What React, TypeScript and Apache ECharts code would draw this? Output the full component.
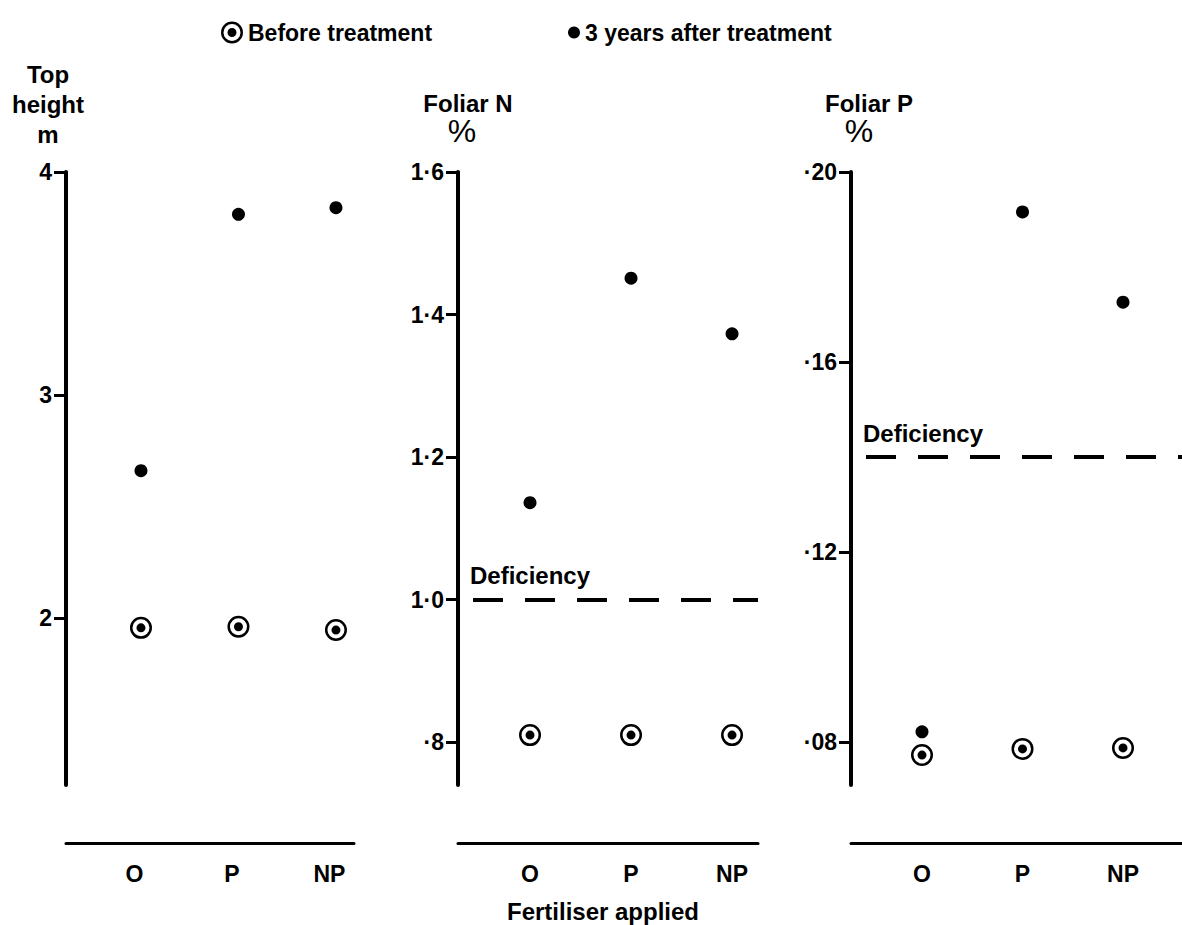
import React, { useEffect, useRef } from "react";
import * as echarts from "echarts";

const categories = ["O", "P", "NP"];
const heightBefore = [1.955, 1.96, 1.945];
const heightAfter = [2.66, 3.81, 3.84];
const nBefore = [0.81, 0.81, 0.81];
const nAfter = [1.136, 1.451, 1.373];
const pBefore = [0.0773, 0.0786, 0.0788];
const pAfter = [0.0822, 0.1916, 0.1726];
const heightTicks = [2, 3, 4];
const nTicks = [0.8, 1.0, 1.2, 1.4, 1.6];
const pTicks = [0.08, 0.12, 0.16, 0.2];
const nDeficiency = 1.0;
const pDeficiency = 0.14;

const BEFORE_PATH =
  "path://M0 11A11 11 0 1 0 22 11A11 11 0 1 0 0 11Z" +
  "M2.5 11A8.5 8.5 0 1 1 19.5 11A8.5 8.5 0 1 1 2.5 11Z" +
  "M6.5 11A4.5 4.5 0 1 0 15.5 11A4.5 4.5 0 1 0 6.5 11Z";

const FONT = "'Liberation Sans', Arial, sans-serif";

const toPairs = (vals: number[]) => vals.map((v, i) => [i + 1, v]);

export default function App() {
  const ref = useRef<HTMLDivElement>(null);
  useEffect(() => {
    if (!ref.current) return;
    const chart = echarts.init(ref.current, null, { renderer: "svg" });
    const grids = [
      { left: 66, top: 172, width: 288, height: 613 },
      { left: 458, top: 172, width: 300, height: 613 },
      { left: 851, top: 172, width: 331, height: 613 },
    ];
    const xRanges = [
      [0.231, 3.185],
      [0.287, 3.257],
      [0.2935, 3.587],
    ];
    const labelPads = [
      [0, 13, 0, 0],
      [0, 0, 0, 0],
      [0, 0, 0, 0],
    ];
    const xAxis = xRanges.map((r, i) => ({
      type: "value",
      gridIndex: i,
      min: r[0],
      max: r[1],
      position: "bottom",
      offset: 58,
      axisLine: { show: true, lineStyle: { color: "#000", width: 3 } },
      axisTick: { show: false },
      splitLine: { show: false },
      axisLabel: {
        customValues: [1, 2, 3],
        formatter: (v: number) => categories[Math.round(v) - 1] ?? "",
        margin: 19,
        color: "#000",
        fontSize: 23,
        fontWeight: "bold",
        fontFamily: FONT,
        padding: labelPads[i],
      },
    }));
    const yDefs = [
      { min: 1.25, max: 4, ticks: heightTicks, fmt: (v: number) => String(Math.round(v)) },
      {
        min: 0.74,
        max: 1.6,
        ticks: nTicks,
        fmt: (v: number) => v.toFixed(1).replace(/^0\./, "·").replace(".", "·"),
      },
      {
        min: 0.071,
        max: 0.2,
        ticks: pTicks,
        fmt: (v: number) => v.toFixed(2).replace(/^0\./, "·"),
      },
    ];
    const yAxis = yDefs.map((d, i) => ({
      type: "value",
      gridIndex: i,
      min: d.min,
      max: d.max,
      axisLine: { show: true, lineStyle: { color: "#000", width: 4 } },
      axisTick: {
        show: true,
        customValues: d.ticks,
        length: 12,
        lineStyle: { color: "#000", width: 3 },
      },
      splitLine: { show: false },
      axisLabel: {
        customValues: d.ticks,
        formatter: d.fmt,
        margin: 14,
        color: "#000",
        fontSize: 23,
        fontWeight: "bold",
        fontFamily: FONT,
      },
    }));
    const defLine = (val: number) => ({
      silent: true,
      symbol: "none",
      lineStyle: { color: "#000", width: 4, type: [30, 22], dashOffset: 37, opacity: 1 },
      label: {
        show: true,
        position: "insideStartTop",
        formatter: "Deficiency",
        color: "#000",
        fontSize: 24,
        fontWeight: "bold",
        fontFamily: FONT,
        distance: [12, 12],
      },
      data: [{ yAxis: val }],
    });
    const beforeSeries = (data: number[], i: number, ml?: any) => ({
      type: "scatter",
      name: "Before treatment",
      xAxisIndex: i,
      yAxisIndex: i,
      symbol: BEFORE_PATH,
      symbolSize: 22,
      itemStyle: { color: "#000", opacity: 1 },
      data: toPairs(data),
      ...(ml ? { markLine: ml } : {}),
    });
    const afterSeries = (data: number[], i: number) => ({
      type: "scatter",
      name: "3 years after treatment",
      xAxisIndex: i,
      yAxisIndex: i,
      symbol: "circle",
      symbolSize: 13,
      itemStyle: { color: "#000", opacity: 1 },
      data: toPairs(data),
    });
    const legendText = {
      color: "#000",
      fontSize: 23,
      fontWeight: "bold",
      fontFamily: FONT,
    };
    const option: any = {
      animation: false,
      backgroundColor: "#fff",
      grid: grids,
      xAxis,
      yAxis,
      legend: [
        {
          data: [{ name: "Before treatment", icon: BEFORE_PATH }],
          left: 221,
          top: 21,
          padding: 0,
          itemWidth: 22,
          itemHeight: 22,
          selectedMode: false,
          textStyle: legendText,
        },
        {
          data: [{ name: "3 years after treatment", icon: "circle" }],
          left: 568,
          top: 21,
          padding: 0,
          itemWidth: 12,
          itemHeight: 12,
          selectedMode: false,
          textStyle: legendText,
        },
      ],
      graphic: [
        {
          type: "text",
          x: 48,
          y: 59,
          style: {
            text: "Top\nheight\nm",
            align: "center",
            verticalAlign: "top",
            lineHeight: 30,
            fill: "#000",
            font: `bold 24px ${FONT}`,
          },
        },
        {
          type: "text",
          x: 468,
          y: 103,
          style: { text: "Foliar N", align: "center", verticalAlign: "middle", fill: "#000", font: `bold 24px ${FONT}` },
        },
        {
          type: "text",
          x: 462,
          y: 131,
          style: { text: "%", align: "center", verticalAlign: "middle", fill: "#000", font: `32px ${FONT}` },
        },
        {
          type: "text",
          x: 869,
          y: 103,
          style: { text: "Foliar P", align: "center", verticalAlign: "middle", fill: "#000", font: `bold 24px ${FONT}` },
        },
        {
          type: "text",
          x: 859,
          y: 131,
          style: { text: "%", align: "center", verticalAlign: "middle", fill: "#000", font: `32px ${FONT}` },
        },
        {
          type: "text",
          x: 603,
          y: 911,
          style: {
            text: "Fertiliser applied",
            align: "center",
            verticalAlign: "middle",
            fill: "#000",
            font: `bold 24px ${FONT}`,
          },
        },
      ],
      series: [
        beforeSeries(heightBefore, 0),
        afterSeries(heightAfter, 0),
        beforeSeries(nBefore, 1, defLine(nDeficiency)),
        afterSeries(nAfter, 1),
        beforeSeries(pBefore, 2, defLine(pDeficiency)),
        afterSeries(pAfter, 2),
      ],
    };
    chart.setOption(option);
    return () => chart.dispose();
  }, []);
  return (
    <div
      ref={ref}
      style={{ position: "absolute", left: 0, top: 0, width: 1182, height: 925 }}
    />
  );
}
